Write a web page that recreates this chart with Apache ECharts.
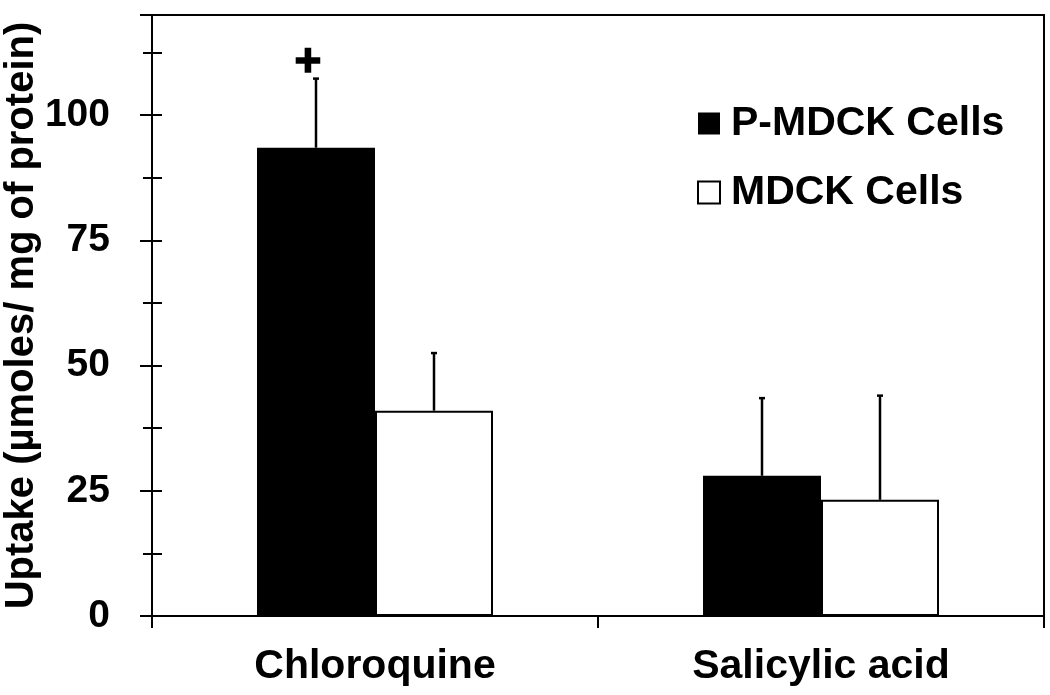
<!DOCTYPE html>
<html>
<head>
<meta charset="utf-8">
<script src="https://cdn.jsdelivr.net/npm/echarts@6/dist/echarts.min.js"></script>
<style>
	html, body { margin: 0; padding: 0; background: #fff; }
	#main { width: 1050px; height: 695px; }
</style>
</head>
<body>
<div id="main"></div>
<script>
var categories = [ 'Chloroquine', 'Salicylic acid' ];
var seriesNames = [ 'P-MDCK Cells', 'MDCK Cells' ];
var pmdck = [ 93.5, 28.0 ];
var pmdckErrTop = [ 107.3, 43.5 ];
var mdck = [ 41.0, 23.2 ];
var mdckErrTop = [ 52.5, 44.0 ];
var sigMarks = [ '+', '' ];
var yTicks = [ 0, 25, 50, 75, 100 ];

var FONT = 'Liberation Sans, Arial, sans-serif';
var BAR_W = 118;

var chart = echarts.init(document.getElementById('main'));

// error bar: one upward line with a tiny cap, shifted to its bar
function errorRenderer(values, tops, shift, marks) {
	return function(params, api) {
		var i = params.dataIndex;
		var base = api.coord([ i, values[i] ]);
		var top = api.coord([ i, tops[i] ]);
		var x = base[0] + shift;
		var children = [ {
			type : 'line',
			shape : { x1 : x, y1 : base[1], x2 : x, y2 : top[1] },
			style : { stroke : '#000', lineWidth : 2.5 }
		}, {
			type : 'line',
			shape : { x1 : x - 3, y1 : top[1], x2 : x + 3, y2 : top[1] },
			style : { stroke : '#000', lineWidth : 2.5 }
		} ];
		if (marks && marks[i]) {
			children.push({
				type : 'text',
				style : {
					text : marks[i], x : x - 8, y : top[1] - 15,
					textAlign : 'center', textVerticalAlign : 'middle',
					font : 'bold 46px ' + FONT, fill : '#000',
					stroke : '#000', lineWidth : 1.5
				}
			});
		}
		return { type : 'group', children : children };
	};
}

var yBase = {
	type : 'value',
	min : 0,
	max : 120,
	interval : 25,
	offset : 0,
	splitLine : { show : false },
	axisLine : { show : true, lineStyle : { color : '#000', width : 2 } },
	minorTick : { show : true, splitNumber : 2, length : 9, lineStyle : { color : '#000', width : 2 } },
	minorSplitLine : { show : false }
};

var option = {
	animation : false,
	grid : {
		left : 152, right : 6, top : 15, bottom : 79,
		outerBoundsMode : 'none',
		containLabel : false,
		show : true, borderColor : '#000', borderWidth : 2, backgroundColor : '#fff'
	},
	legend : {
		orient : 'vertical',
		left : 692,
		top : 98,
		itemGap : 28,
		itemWidth : 22,
		itemHeight : 22,
		icon : 'rect',
		textStyle : { fontFamily : FONT, fontWeight : 'bold', fontSize : 41, color : '#000', padding : [ 0, 0, 0, 6 ] },
		data : [ {
			name : seriesNames[0], itemStyle : { color : '#000', borderColor : '#000', borderWidth : 0 }
		}, {
			name : seriesNames[1], itemStyle : { color : '#fff', borderColor : '#000', borderWidth : 2 }
		} ]
	},
	xAxis : {
		type : 'category',
		data : categories,
		axisLine : { lineStyle : { color : '#000', width : 2 } },
		axisTick : { show : true, length : 12, lineStyle : { color : '#000', width : 2 } },
		axisLabel : { color : '#000', fontFamily : FONT, fontWeight : 'bold', fontSize : 41, margin : 30 }
	},
	yAxis : [ Object.assign({}, yBase, {
		name : 'Uptake (µmoles/ mg of protein)',
		nameLocation : 'middle',
		nameGap : 110,
		nameMoveOverlap : false,
		nameRotate : 90,
		nameTextStyle : { color : '#000', fontFamily : FONT, fontWeight : 'bold', fontSize : 40 },
		axisTick : { show : true, length : 12, lineStyle : { color : '#000', width : 2 } },
		axisLabel : {
			color : '#000', fontFamily : FONT, fontWeight : 'bold', fontSize : 39, margin : 42,
			formatter : function(v) { return yTicks.indexOf(v) >= 0 ? String(v) : ''; }
		}
	}), Object.assign({}, yBase, {
		position : 'left',
		axisLine : { show : true, lineStyle : { color : '#000', width : 2 } },
		axisLabel : { show : false },
		axisTick : { show : true, inside : true, length : 10, lineStyle : { color : '#000', width : 2 } },
		minorTick : { show : true, splitNumber : 2, length : 10, lineStyle : { color : '#000', width : 2 } }
	}) ],
	series : [ {
		name : seriesNames[0],
		type : 'bar',
		barWidth : BAR_W,
		barGap : '0%',
		itemStyle : { color : '#000', borderColor : '#000', borderWidth : 0 },
		data : pmdck
	}, {
		name : seriesNames[1],
		type : 'bar',
		barWidth : BAR_W,
		barGap : '0%',
		itemStyle : { color : '#fff', borderColor : '#000', borderWidth : 2 },
		data : mdck
	}, {
		type : 'custom',
		renderItem : errorRenderer(pmdck, pmdckErrTop, -BAR_W / 2, sigMarks),
		data : pmdck,
		z : 5
	}, {
		type : 'custom',
		renderItem : errorRenderer(mdck, mdckErrTop, BAR_W / 2, null),
		data : mdck,
		z : 5
	} ]
};
chart.setOption(option, true);
</script>
</body>
</html>
